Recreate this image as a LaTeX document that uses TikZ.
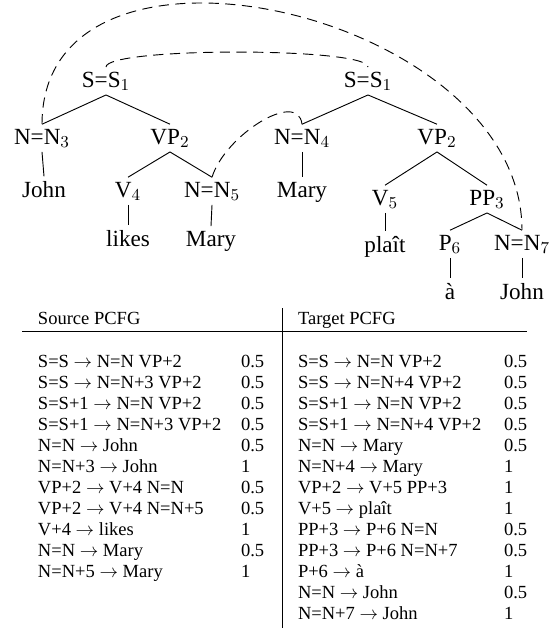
\documentclass[tikz,border=0pt]{standalone}
\usepackage{fontspec}
\setmainfont{Liberation Serif}
\usetikzlibrary{positioning}

\tikzset{
  treenode/.style={inner sep=2.5pt, outer sep=0pt, anchor=base, font=\fontsize{12.5}{15}\selectfont},
  branch/.style={line width=0.5pt},
  link/.style={dash pattern=on 5.5pt off 3.5pt, line width=0.5pt},
  rulenode/.style={inner sep=0pt, outer sep=0pt, anchor=base west, font=\fontsize{10}{12}\selectfont},
}

\begin{document}
\begin{tikzpicture}[x=0.54pt, y=-0.54pt]
  \useasboundingbox (0,0) rectangle (558,628);

  % source tree
  \node[treenode] (sL) at (106,87) {S=S$_1$};
  \node[treenode] (nL3) at (42,144) {N=N$_3$};
  \node[treenode] (vpL) at (170,144) {VP$_2$};
  \node[treenode] (johnL) at (44,197) {John};
  \node[treenode] (vL4) at (128,197) {V$_4$};
  \node[treenode] (nL5) at (212,197) {N=N$_5$};
  \node[treenode] (likesL) at (128,246) {likes};
  \node[treenode] (maryL) at (211,246) {Mary};

  \draw[branch] (sL.south) -- (nL3.north);
  \draw[branch] (sL.south) -- (vpL.north);
  \draw[branch] (nL3.south) -- (johnL.north);
  \draw[branch] (vpL.south) -- (vL4.north);
  \draw[branch] (vpL.south) -- (nL5.north);
  \draw[branch] (vL4.south) -- (likesL.north);
  \draw[branch] (nL5.south) -- (maryL.north);

  % target tree
  \node[treenode] (sR) at (368,87) {S=S$_1$};
  \node[treenode] (nR4) at (302,144) {N=N$_4$};
  \node[treenode] (vpR) at (437,144) {VP$_2$};
  \node[treenode] (maryR) at (302,197) {Mary};
  \node[treenode] (vR5) at (385,205) {V$_5$};
  \node[treenode] (ppR3) at (487,205) {PP$_3$};
  \node[treenode] (plaitR) at (385,252) {plaît};
  \node[treenode] (pR6) at (450,250) {P$_6$};
  \node[treenode] (nR7) at (522,250) {N=N$_7$};
  \node[treenode] (aR) at (450,299) {à};
  \node[treenode] (johnR) at (522,299) {John};

  \draw[branch] (sR.south) -- (nR4.north);
  \draw[branch] (sR.south) -- (vpR.north);
  \draw[branch] (nR4.south) -- (maryR.north);
  \draw[branch] (vpR.south) -- (vR5.north);
  \draw[branch] (vpR.south) -- (ppR3.north);
  \draw[branch] (vR5.south) -- (plaitR.north);
  \draw[branch] (ppR3.south) -- (pR6.north);
  \draw[branch] (ppR3.south) -- (nR7.north);
  \draw[branch] (pR6.south) -- (aR.north);
  \draw[branch] (nR7.south) -- (johnR.north);

  % alignment links
  \draw[link] (nL3.north) .. controls +(0,-220) and +(0,-220) .. (nR7.north);
  \draw[link] (sL.north) .. controls +(0,-20) and +(0,-20) .. (sR.north);
  \draw[link] (nL5.north) .. controls +(13,-42) and +(-4,-35) .. (nR4.north);

  % grammars
  \draw[line width=0.5pt] (22,331) -- (527,331);
  \draw[line width=0.5pt] (282,308) -- (282,628);
  \node[rulenode] (srcHead) at (38,324) {Source PCFG};
  \node[rulenode] (tgtHead) at (298,324) {Target PCFG};

  \foreach \lhs/\prb [count=\i from 0] in {
    S=S $\rightarrow$ N=N VP+2/0.5,
    S=S $\rightarrow$ N=N+3 VP+2/0.5,
    S=S+1 $\rightarrow$ N=N VP+2/0.5,
    S=S+1 $\rightarrow$ N=N+3 VP+2/0.5,
    N=N $\rightarrow$ John/0.5,
    N=N+3 $\rightarrow$ John/1,
    VP+2 $\rightarrow$ V+4 N=N/0.5,
    VP+2 $\rightarrow$ V+4 N=N+5/0.5,
    V+4 $\rightarrow$ likes/1,
    N=N $\rightarrow$ Mary/0.5,
    N=N+5 $\rightarrow$ Mary/1}
  {
    \node[rulenode] (src\i) at (38,{367+21*\i}) {\lhs};
    \node[rulenode] (srcp\i) at (241,{367+21*\i}) {\prb};
  }

  \foreach \lhs/\prb [count=\i from 0] in {
    S=S $\rightarrow$ N=N VP+2/0.5,
    S=S $\rightarrow$ N=N+4 VP+2/0.5,
    S=S+1 $\rightarrow$ N=N VP+2/0.5,
    S=S+1 $\rightarrow$ N=N+4 VP+2/0.5,
    N=N $\rightarrow$ Mary/0.5,
    N=N+4 $\rightarrow$ Mary/1,
    VP+2 $\rightarrow$ V+5 PP+3/1,
    V+5 $\rightarrow$ plaît/1,
    PP+3 $\rightarrow$ P+6 N=N/0.5,
    PP+3 $\rightarrow$ P+6 N=N+7/0.5,
    P+6 $\rightarrow$ à/1,
    N=N $\rightarrow$ John/0.5,
    N=N+7 $\rightarrow$ John/1}
  {
    \node[rulenode] (tgt\i) at (298,{367+21*\i}) {\lhs};
    \node[rulenode] (tgtp\i) at (504,{367+21*\i}) {\prb};
  }
\end{tikzpicture}
\end{document}
